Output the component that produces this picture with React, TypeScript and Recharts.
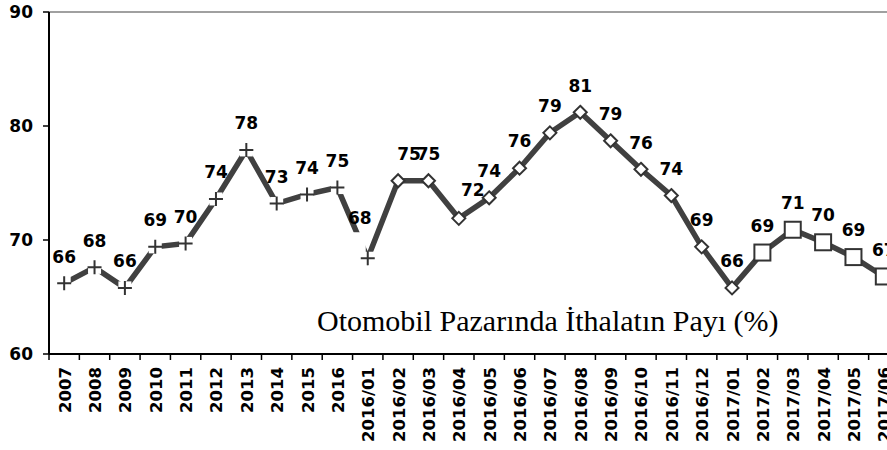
import React from 'react';
import { LineChart, Line, XAxis, YAxis, ReferenceLine, LabelList, Customized } from 'recharts';

const categories = [
  '2007', '2008', '2009', '2010', '2011', '2012', '2013', '2014', '2015', '2016',
  '2016/01', '2016/02', '2016/03', '2016/04', '2016/05', '2016/06', '2016/07', '2016/08',
  '2016/09', '2016/10', '2016/11', '2016/12',
  '2017/01', '2017/02', '2017/03', '2017/04', '2017/05', '2017/06',
];
const annualShare = [66.2, 67.6, 65.8, 69.4, 69.7, 73.6, 77.9, 73.2, 74.0, 74.6];
const monthly2016 = [68.4, 75.2, 75.2, 71.9, 73.7, 76.3, 79.4, 81.2, 78.7, 76.2, 73.9, 69.4];
const monthly2017 = [65.8, 68.9, 70.9, 69.8, 68.5, 66.8];
const yTicks = [60, 70, 80, 90];
const title = 'Otomobil Pazarında İthalatın Payı (%)';

const values = [...annualShare, ...monthly2016, ...monthly2017];
const data = categories.map((cat, i) => ({ cat, share: values[i] }));

// marker groups: annual + 2016/01 use "+", rest of 2016 and 2017/01 diamonds, rest squares
const plusEnd = annualShare.length; // index 10 (2016/01) inclusive
const diamondEnd = annualShare.length + monthly2016.length; // index 22 (2017/01) inclusive

const CHART_W = 909;
const CHART_H = 450;
const MARGIN = { top: 12, right: 10, bottom: 0, left: 0 };
const Y_W = 49;
const PLOT_W = CHART_W - MARGIN.right - MARGIN.left - Y_W;
const BAND = PLOT_W / categories.length;
const FONT = '"DejaVu Sans", Verdana, sans-serif';
const INK = '#333';

const labelNudge: Record<number, [number, number]> = {
  10: [-8, -40],
  11: [11, -27],
  13: [14, -29],
};

const Marker = (props: any) => {
  const { cx, cy, index } = props;
  if (cx == null || cy == null) return <g key={`m${index}`} />;
  if (index <= plusEnd) {
    return (
      <g key={`m${index}`}>
        {index === plusEnd && (
          <rect x={cx - 18} y={cy - 26} width={16} height={20} fill="#fff" />
        )}
        <rect x={cx - 6.5} y={cy - 6.5} width={13} height={13} fill="#fff" />
        <path d={`M${cx - 7},${cy}H${cx + 7}M${cx},${cy - 7}V${cy + 7}`} stroke={INK} strokeWidth={2} fill="none" />
      </g>
    );
  }
  if (index <= diamondEnd) {
    const r = 6.5;
    return (
      <path
        key={`m${index}`}
        d={`M${cx},${cy - r}L${cx + r},${cy}L${cx},${cy + r}L${cx - r},${cy}Z`}
        fill="#fff"
        stroke={INK}
        strokeWidth={2}
      />
    );
  }
  const s = 16;
  return (
    <rect key={`m${index}`} x={cx - s / 2} y={cy - s / 2} width={s} height={s} fill="#fff" stroke={INK} strokeWidth={2} />
  );
};

const DataLabel = (props: any) => {
  const { value, index, viewBox } = props;
  const px = props.x ?? viewBox?.x;
  const py = props.y ?? viewBox?.y;
  if (px == null || py == null) return null;
  const [dx, dy] = labelNudge[index] ?? [0, -27];
  return (
    <text
      x={px + dx}
      y={py + dy + 6.2}
      textAnchor="middle"
      fontFamily={FONT}
      fontWeight="bold"
      fontSize={17}
      fill="#000"
    >
      {Math.round(value)}
    </text>
  );
};

const XTick = (props: any) => {
  const { x, y, payload, index } = props;
  const tx = x + 6.5;
  const ty = y + 13;
  return (
    <g>
      <line x1={x - BAND / 2} x2={x - BAND / 2} y1={y} y2={y + 6} stroke="#000" strokeWidth={1.5} />
      {index === categories.length - 1 && (
        <line x1={x + BAND / 2} x2={x + BAND / 2} y1={y} y2={y + 6} stroke="#000" strokeWidth={1.5} />
      )}
      <text
        x={tx}
        y={ty}
        transform={`rotate(-90 ${tx} ${ty})`}
        textAnchor="end"
        fontFamily={FONT}
        fontWeight="bold"
        fontSize={16.5}
        fill="#000"
      >
        {payload.value}
      </text>
    </g>
  );
};

const Title = () => (
  <text x={317} y={331} fontFamily='"Liberation Serif", "Times New Roman", serif' fontSize={30} fill="#000">
    {title}
  </text>
);

export default function App() {
  return (
    <div
      style={{
        position: 'fixed',
        left: 0,
        top: 0,
        width: 887,
        height: 450,
        overflow: 'hidden',
        background: '#fff',
      }}
    >
      <LineChart width={CHART_W} height={CHART_H} data={data} margin={MARGIN}>
        <ReferenceLine y={90} stroke="#808080" strokeWidth={1.5} />
        <XAxis
          dataKey="cat"
          type="category"
          interval={0}
          height={CHART_H - MARGIN.top - 342}
          padding={{ left: BAND / 2, right: BAND / 2 }}
          tick={<XTick />}
          tickLine={false}
          tickSize={0}
          tickMargin={0}
          axisLine={{ stroke: '#000', strokeWidth: 2 }}
        />
        <YAxis
          width={Y_W}
          domain={[60, 90]}
          ticks={yTicks}
          interval={0}
          tickSize={6}
          tickMargin={10}
          axisLine={{ stroke: '#000', strokeWidth: 2 }}
          tickLine={{ stroke: '#000', strokeWidth: 1.5 }}
          tick={{ fontFamily: FONT, fontWeight: 'bold', fontSize: 17, fill: '#000' }}
        />
        <Line
          type="linear"
          dataKey="share"
          stroke="#404040"
          strokeWidth={5.5}
          dot={Marker}
          activeDot={false}
          isAnimationActive={false}
        >
          <LabelList dataKey="share" content={<DataLabel />} />
        </Line>
        <Customized component={Title} />
      </LineChart>
    </div>
  );
}
